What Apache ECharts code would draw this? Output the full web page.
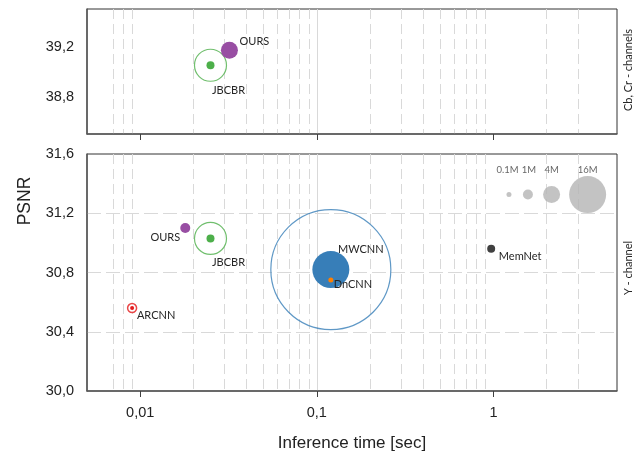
<!DOCTYPE html>
<html><head><meta charset="utf-8">
<script src="https://cdn.jsdelivr.net/npm/echarts@6/dist/echarts.min.js"></script>
<style>html,body{margin:0;padding:0;background:#fff}#c{width:634px;height:457px}</style>
</head><body><div id="c"></div>
<script>
// ---- data ----
const xTicks = [0.01, 0.1, 1];
const xMinorTicks = [0.006, 0.007, 0.008, 0.009, 0.02, 0.03, 0.04, 0.05, 0.06, 0.07, 0.08, 0.09,
                     0.2, 0.3, 0.4, 0.5, 0.6, 0.7, 0.8, 0.9, 2, 3, 4];
const cbcrTicks = [38.8, 39.2];
const yTicks = [30.0, 30.4, 30.8, 31.2, 31.6];

const cbcrMethods = ['OURS', 'JBCBR'];
const cbcrTime = [0.032, 0.025];
const cbcrPsnr = [39.17, 39.05];

const yMethods = ['ARCNN', 'OURS', 'JBCBR', 'MWCNN', 'DnCNN', 'MemNet'];
const yTime = [0.009, 0.018, 0.025, 0.12, 0.12, 0.97];
const yPsnr = [30.56, 31.10, 31.03, 30.82, 30.75, 30.96];

const sizeKeys = ['0.1M', '1M', '4M', '16M'];

// ---- styles ----
const C = { purple: '#984ea3', green: '#4daf4a', blue: '#377eb8', orange: '#ff7f00', red: '#e41a1c', dark: '#404040', gray: '#b4b4b4' };
const cbcrStyle = {
  OURS:  { color: C.purple, size: 17, off: [25, -9] },
  JBCBR: { color: C.green, size: 8, ring: 32, ringW: 1.2, ringFill: '#fff', off: [18, 25] }
};
const yStyle = {
  ARCNN:  { color: C.red, size: 4, ring: 9, ringW: 1.5, ringFill: '#fff', off: [24, 7] },
  OURS:   { color: C.purple, size: 10, off: [-20, 9] },
  JBCBR:  { color: C.green, size: 8, ring: 32, ringW: 1.2, ringFill: '#fff', off: [18, 24] },
  MWCNN:  { color: C.blue, size: 37, ring: 120, ringW: 1.2, ringFill: 'rgba(0,0,0,0)', off: [30, -20] },
  DnCNN:  { color: C.orange, size: 5, off: [22, 5] },
  MemNet: { color: C.dark, size: 8, off: [29, 8] }
};
const legendPos = { x: [1.223, 1.566, 2.132, 3.41], y: 31.326, sizes: [5, 10, 17, 37], dx: [-1.5, 1, 0, 0] };

const labelFont = { fontFamily: 'Lato, "Open Sans", sans-serif', fontSize: 11, color: '#262626' };
const comma = v => (+v).toFixed(1).replace('.', ',');
const commaX = v => String(+v).replace('.', ',');

function panelSeries(methods, times, psnrs, styles, xi, yi) {
  const out = [];
  methods.forEach((m, i) => {
    const s = styles[m];
    if (s.ring) {
      out.push({
        type: 'scatter', name: m + ' ring', xAxisIndex: xi, yAxisIndex: yi, silent: true,
        symbol: 'circle', symbolSize: s.ring, z: 3,
        itemStyle: { color: s.ringFill, borderColor: s.color, borderWidth: s.ringW },
        data: [[times[i], psnrs[i]]]
      });
    }
  });
  methods.forEach((m, i) => {
    const s = styles[m];
    out.push({
      type: 'scatter', name: m, xAxisIndex: xi, yAxisIndex: yi,
      symbol: 'circle', symbolSize: s.size, z: 4,
      itemStyle: { color: s.color, opacity: 1 },
      label: Object.assign({ show: true, position: 'inside', offset: s.off, formatter: m }, labelFont),
      data: [[times[i], psnrs[i]]]
    });
  });
  return out;
}

const series = []
  .concat(panelSeries(cbcrMethods, cbcrTime, cbcrPsnr, cbcrStyle, 0, 0))
  .concat(panelSeries(yMethods, yTime, yPsnr, yStyle, 2, 1));

series.push({
  type: 'scatter', name: 'size legend', xAxisIndex: 2, yAxisIndex: 1, z: 4,
  symbol: 'circle',
  symbolSize: (v, p) => legendPos.sizes[p.dataIndex],
  itemStyle: { color: C.gray },
  data: sizeKeys.map((k, i) => ({
    value: [legendPos.x[i], legendPos.y],
    label: { show: true, position: 'inside', offset: [legendPos.dx[i], -25], formatter: k,
             fontFamily: labelFont.fontFamily, fontSize: 9.5, color: '#404040' }
  }))
});

const axisLineStyle = { color: '#5a5a5a', width: 1.5 };
const gridLine = '#d9d9d9';

function mainX(grid, showLabels) {
  return {
    type: 'log', logBase: 10, gridIndex: grid, min: 0.005, max: 5, position: 'bottom',
    axisLine: { show: true, onZero: false, lineStyle: axisLineStyle },
    axisTick: { show: true, customValues: xTicks, length: 6, lineStyle: { color: '#404040', width: 1 } },
    axisLabel: { show: showLabels, customValues: xTicks, formatter: commaX, margin: 14,
                 fontFamily: '"Liberation Sans", Arial, sans-serif', fontSize: 14.5, color: '#222' },
    splitLine: { show: true, showMinLine: false, showMaxLine: false, lineStyle: { color: gridLine, width: 1, type: 'solid' } },
    name: showLabels ? 'Inference time [sec]' : '',
    nameLocation: 'middle', nameGap: 44,
    nameTextStyle: { fontFamily: '"Liberation Sans", Arial, sans-serif', fontSize: 17, color: '#222' }
  };
}
function minorX(grid) {
  return {
    type: 'log', logBase: 10, gridIndex: grid, min: 0.005, max: 5, position: 'top',
    axisLine: { show: false }, axisTick: { show: false, customValues: xMinorTicks },
    axisLabel: { show: false, customValues: xMinorTicks },
    splitLine: { show: true, showMinLine: false, showMaxLine: false, lineStyle: { color: gridLine, width: 1, type: [10, 5] } }
  };
}
const yLabelStyle = { fontFamily: '"Liberation Sans", Arial, sans-serif', fontSize: 14.5, color: '#222', margin: 13, formatter: comma };

const option = {
  backgroundColor: '#fff',
  animation: false,
  grid: [
    { left: 87, top: 9, right: 17, height: 125, show: true, borderColor: '#333', borderWidth: 1, backgroundColor: 'rgba(0,0,0,0)', z: 0 },
    { left: 87, top: 154, right: 17, height: 238, show: true, borderColor: '#333', borderWidth: 1, backgroundColor: 'rgba(0,0,0,0)', z: 0 }
  ],
  xAxis: [mainX(0, false), minorX(0), mainX(1, true), minorX(1)],
  yAxis: [
    { type: 'value', gridIndex: 0, min: 38.5, max: 39.5,
      axisLine: { show: true, lineStyle: axisLineStyle },
      axisTick: { show: false, customValues: cbcrTicks },
      axisLabel: Object.assign({ customValues: cbcrTicks }, yLabelStyle),
      splitLine: { show: true, showMinLine: false, showMaxLine: false, lineStyle: { color: gridLine, width: 1, type: [14, 5] } } },
    { type: 'value', gridIndex: 1, min: yTicks[0], max: yTicks[yTicks.length - 1], interval: 0.4,
      axisLine: { show: true, lineStyle: axisLineStyle },
      axisTick: { show: false },
      axisLabel: yLabelStyle,
      splitLine: { show: true, showMinLine: false, showMaxLine: false, lineStyle: { color: gridLine, width: 1, type: [14, 5] } } }
  ],
  graphic: [
    { type: 'text', x: 25, y: 201, rotation: Math.PI / 2,
      style: { text: 'PSNR', fill: '#222', font: '17.5px "Liberation Sans", Arial, sans-serif', textAlign: 'center', textVerticalAlign: 'middle' } },
    { type: 'text', x: 628, y: 70, rotation: Math.PI / 2,
      style: { text: 'Cb, Cr - channels', fill: '#262626', font: '11px Lato, "Open Sans", sans-serif', textAlign: 'center', textVerticalAlign: 'middle' } },
    { type: 'text', x: 628, y: 268, rotation: Math.PI / 2,
      style: { text: 'Y - channel', fill: '#262626', font: '11px Lato, "Open Sans", sans-serif', textAlign: 'center', textVerticalAlign: 'middle' } }
  ],
  series: series
};
const chart = echarts.init(document.getElementById('c'), null, { renderer: 'canvas' });
chart.setOption(option);
</script>
</body></html>
